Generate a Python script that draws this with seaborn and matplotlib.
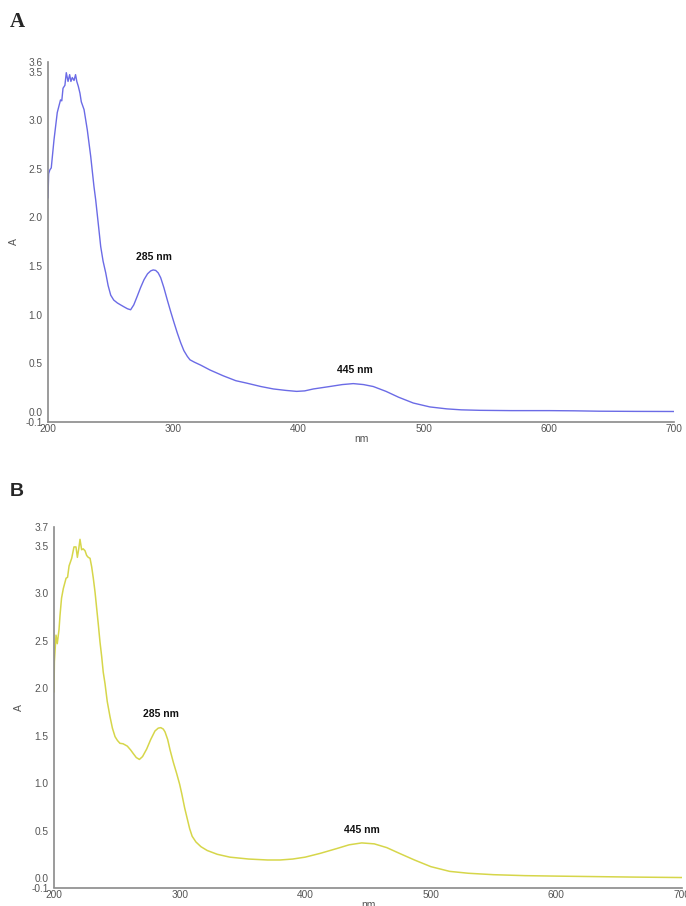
import numpy as np
import pandas as pd
import matplotlib
matplotlib.use("Agg")
import matplotlib.pyplot as plt
import seaborn as sns

# ---- Data ----
wl_a = [200, 200.5, 201.5, 202.6, 204.8, 207.4, 210, 211, 212, 213.5, 214.6, 216, 217.3, 218.3,
        219.4, 220.8, 222, 223, 224.2, 225.5, 226.6, 228.8, 231.4, 234.1, 236.7, 238.1, 240.7,
        242.1, 244, 246.1, 248, 250.1, 252.5, 255.4, 258, 260.7, 263.5, 266, 268.5, 271.3, 274,
        276.7, 279.5, 282, 284, 286, 288, 290, 292.5, 295.3, 298, 300.6, 303.3, 306, 308.5,
        311.3, 313.4, 317, 322, 329.4, 340, 350, 358.7, 370, 380, 390, 398.6, 405, 412, 425,
        435, 443.8, 452, 459.8, 470, 480, 491.8, 505, 518.5, 530, 545, 570, 600, 620, 640, 670, 700]
abs_a = [2.20, 2.45, 2.49, 2.51, 2.80, 3.08, 3.21, 3.20, 3.33, 3.36, 3.49, 3.40, 3.47, 3.40,
         3.44, 3.41, 3.47, 3.40, 3.35, 3.28, 3.19, 3.11, 2.90, 2.63, 2.32, 2.18, 1.87,
         1.70, 1.55, 1.43, 1.30, 1.20, 1.15, 1.12, 1.10, 1.08, 1.06, 1.05, 1.10, 1.19, 1.28,
         1.36, 1.42, 1.45, 1.46, 1.455, 1.43, 1.38, 1.28, 1.15, 1.03, 0.92, 0.81, 0.71, 0.63,
         0.57, 0.535, 0.51, 0.48, 0.43, 0.37, 0.32, 0.295, 0.26, 0.235, 0.22, 0.21, 0.215, 0.235, 0.26,
         0.28, 0.29, 0.28, 0.26, 0.21, 0.15, 0.09, 0.05, 0.03, 0.02, 0.015, 0.012, 0.012, 0.01, 0.006, 0.004, 0.003]

wl_b = [200, 200.3, 201.6, 202.6, 204, 204.8, 206, 207.4, 209.6, 210.8, 212, 214.1, 215.9, 217.5,
        218.6, 219.7, 220.7, 222, 223.2, 224.7, 226, 227.3, 228.7, 230, 231.3, 232.7, 234, 235.3,
        236.6, 238, 239.2, 240.6, 242.4, 244.6, 246.5, 248.6, 250.5, 252.5, 255, 258.4, 261,
        263.2, 265.5, 268, 270.5, 273.8, 277, 280.4, 283, 285, 287, 288.4, 290.5, 292.4, 295,
        297.7, 300, 301.7, 304, 306, 308, 310, 313, 317, 322, 330, 340, 355, 370, 380, 390, 400,
        412, 425, 435, 445, 455, 465, 475, 487, 500, 515, 530, 550, 575, 600, 630, 660, 700]
abs_b = [1.96, 2.28, 2.56, 2.47, 2.62, 2.77, 2.95, 3.05, 3.16, 3.17, 3.29, 3.37, 3.49, 3.49,
         3.38, 3.47, 3.57, 3.46, 3.47, 3.45, 3.40, 3.38, 3.37, 3.28, 3.16, 3.01, 2.84, 2.67,
         2.49, 2.33, 2.17, 2.05, 1.86, 1.70, 1.58, 1.49, 1.45, 1.42, 1.415, 1.39, 1.35,
         1.31, 1.27, 1.25, 1.28, 1.36, 1.46, 1.55, 1.58, 1.585, 1.57, 1.54, 1.46, 1.35, 1.22,
         1.10, 0.99, 0.89, 0.74, 0.63, 0.52, 0.44, 0.38, 0.33, 0.29, 0.25, 0.22, 0.20, 0.19, 0.19, 0.20, 0.22,
         0.26, 0.31, 0.35, 0.37, 0.36, 0.32, 0.26, 0.19, 0.12, 0.07, 0.05, 0.035, 0.025, 0.02, 0.015, 0.01, 0.005]

xticks = [200, 300, 400, 500, 600, 700]
yticks_a = [-0.1, 0.0, 0.5, 1.0, 1.5, 2.0, 2.5, 3.0, 3.5, 3.6]
yticks_b = [-0.1, 0.0, 0.5, 1.0, 1.5, 2.0, 2.5, 3.0, 3.5, 3.7]
peaks_a = [(285, 1.46, "285 nm"), (445, 0.29, "445 nm")]
peaks_b = [(285, 1.585, "285 nm"), (445, 0.37, "445 nm")]

sns.set_style("white")
plt.rcParams['font.family'] = ['Liberation Sans', 'DejaVu Sans']

W, H = 686, 906
fig = plt.figure(figsize=(W / 100, H / 100), dpi=100)

def px_axes(l, r, t, b):
    return fig.add_axes([l / W, 1 - b / H, (r - l) / W, (b - t) / H])

ax_a = px_axes(48, 674, 62, 421.5)
ax_b = px_axes(54, 682, 527, 887.5)

gray = '#8a8a8a'
tickcol = '#555555'

def style(ax, wl, ab, color, yticks, ymax, peaks, lw, ylab_x):
    df = pd.DataFrame({'nm': wl, 'A': ab})
    sns.lineplot(data=df, x='nm', y='A', ax=ax, color=color, linewidth=lw,
                 estimator=None, sort=False)
    ax.set_xlim(200, 700)
    ax.set_ylim(-0.1, ymax)
    ax.set_xticks(xticks)
    ax.set_yticks(yticks)
    ax.set_yticklabels([f"{v:.1f}" for v in yticks])
    for s in ['top', 'right']:
        ax.spines[s].set_visible(False)
    for s in ['left', 'bottom']:
        ax.spines[s].set_color(gray)
        ax.spines[s].set_linewidth(1.2)
    ax.tick_params(axis='y', direction='out', length=3, width=0.8, color=gray,
                   labelsize=7.3, labelcolor=tickcol, pad=1)
    ax.tick_params(axis='x', direction='in', length=3, width=0.8, color=gray,
                   labelsize=7.3, labelcolor=tickcol, pad=2)
    ax.set_xlabel('nm', fontsize=7.5, color=tickcol, labelpad=0)
    ax.set_ylabel('A', fontsize=7.5, color=tickcol)
    ax.yaxis.set_label_coords(ylab_x, 0.5)
    for x, y, t in peaks:
        ax.annotate(t, (x, y), xytext=(0, 6), textcoords='offset points',
                    ha='center', va='bottom', fontsize=7.5, fontweight='bold', color='#111111')

style(ax_a, wl_a, abs_a, '#6b6be6', yticks_a, 3.6, peaks_a, 1.0, -0.047)
style(ax_b, wl_b, abs_b, '#d6d64a', yticks_b, 3.7, peaks_b, 1.1, -0.047)

fig.text(10 / W, 1 - 22 / H, 'A', fontsize=15, fontweight='bold', family=['Liberation Serif', 'DejaVu Serif'],
         va='center', ha='left')
fig.text(10 / W, 1 - 491 / H, 'B', fontsize=14, fontweight='bold', va='center', ha='left')

fig.savefig('out.png', dpi=100)
